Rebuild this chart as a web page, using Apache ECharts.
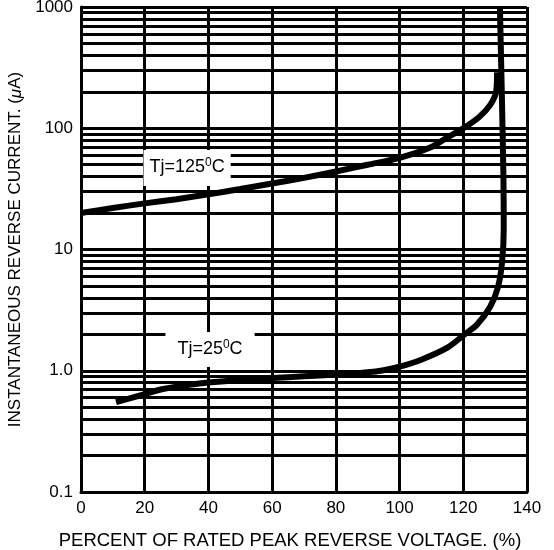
<!DOCTYPE html>
<html>
<head>
<meta charset="utf-8">
<script src="https://cdn.jsdelivr.net/npm/echarts@6/dist/echarts.min.js"></script>
<style>
html,body{margin:0;padding:0;background:#fff;}
#c{width:554px;height:550px;}
</style>
</head>
<body>
<div id="c"></div>
<script>
// X axis ticks
const xTicks = [0, 20, 40, 60, 80, 100, 120, 140];
// Y axis decades and minor grid values
const yDecades = [0.1, 1, 10, 100, 1000];
const yDecadeLabels = ['0.1', '1.0', '10', '100', '1000'];
const yMinorGrid = [0.2,0.3,0.4,0.5,0.6,0.7,0.8,0.9, 2,3,4,5,6,7,8,9, 20,30,40,50,60,70,80,90, 200,300,400,500,600,700,800,900];

// Tj = 125 C curve
const t125X = [0, 10, 20, 30, 40, 50, 60, 70, 80, 90, 100, 110, 115, 120, 125, 128.4, 130.3, 130.6];
const t125Y = [20, 22, 24, 26, 28.5, 31.5, 35, 39, 44, 50, 57, 70, 84, 100, 124, 155, 200, 290];

// Tj = 25 C curve
const t25X = [11, 20, 25, 30, 40, 50, 60, 70, 80, 90, 95, 100, 107, 115, 120.5, 124.3, 128.4, 130.9, 132.2, 132.7, 132.6, 132.1, 131.5];
const t25Y = [0.55, 0.64, 0.70, 0.74, 0.80, 0.84, 0.87, 0.90, 0.93, 0.97, 1.01, 1.08, 1.24, 1.55, 2.0, 2.4, 3.35, 4.9, 8, 15, 40, 190, 1000];

// Curve labels (anchor in data coords)
const label125 = {x: 33.3, y: 47, text: 'Tj=125{s|0}C'};
const label25 = {x: 40.5, y: 1.5, text: 'Tj=25{s|0}C'};

const FONT = '"Liberation Sans", Arial, sans-serif';
const zip = (a, b) => a.map((v, i) => [v, b[i]]);

const chart = echarts.init(document.getElementById('c'), null, {renderer: 'canvas'});
const richSup = {
  s: {fontSize: 12, fontFamily: FONT, color: '#000', verticalAlign: 'top', padding: [0, 0, 9, 0]}
};
chart.setOption({
  animation: false,
  backgroundColor: '#fff',
  grid: {left: 81, right: 27, top: 7, bottom: 58, containLabel: false, outerBoundsMode: 'none'},
  xAxis: {
    type: 'value', min: 0, max: 140, interval: 20,
    axisLine: {show: true, lineStyle: {color: '#000', width: 3}},
    axisTick: {show: false},
    splitLine: {show: true, lineStyle: {color: '#000', width: 3}},
    axisLabel: {color: '#000', fontSize: 17, fontFamily: FONT, margin: 8},
    name: 'PERCENT OF RATED PEAK REVERSE VOLTAGE. (%)',
    nameLocation: 'middle', nameGap: 39,
    nameTextStyle: {color: '#000', fontSize: 18.5, fontFamily: FONT, padding: [0, 28, 0, 0]}
  },
  yAxis: {
    type: 'log', logBase: 10, min: 0.1, max: 1000,
    axisLine: {show: true, lineStyle: {color: '#000', width: 3}},
    axisTick: {show: false},
    splitLine: {show: true, lineStyle: {color: '#000', width: 3}},
    axisLabel: {
      color: '#000', fontSize: 17, fontFamily: FONT, margin: 8,
      formatter: v => {
        for (let i = 0; i < yDecades.length; i++) {
          if (Math.abs(v - yDecades[i]) < yDecades[i] * 1e-6) return yDecadeLabels[i];
        }
        return '';
      }
    },
    name: 'INSTANTANEOUS REVERSE CURRENT. ({i|μ}A)',
    nameLocation: 'middle', nameGap: 49,
    nameTextStyle: {
      color: '#000', fontSize: 17, fontFamily: FONT,
      rich: {i: {fontStyle: 'italic', fontSize: 17, fontFamily: FONT, color: '#000'}}
    }
  },
  series: [
    {
      type: 'line', data: [], z: 1, silent: true,
      markLine: {
        silent: true, symbol: ['none', 'none'], animation: false,
        label: {show: false},
        lineStyle: {color: '#000', width: 3, type: 'solid'},
        emphasis: {disabled: true},
        data: yMinorGrid.map(v => ({yAxis: v}))
      }
    },
    {
      type: 'line', data: zip(t125X, t125Y), smooth: 0.3, symbol: 'none', z: 3,
      lineStyle: {color: '#000', width: 6}
    },
    {
      type: 'line', data: zip(t25X, t25Y), smooth: 0.3, symbol: 'none', z: 3,
      lineStyle: {color: '#000', width: 6}
    },
    {
      type: 'scatter', z: 5, symbolSize: 0, silent: true,
      itemStyle: {opacity: 1},
      data: [[label125.x, label125.y]],
      label: {
        show: true, position: 'inside', formatter: label125.text, opacity: 1,
        color: '#000', fontSize: 18, fontFamily: FONT,
        backgroundColor: '#fff', padding: [7, 6, 8, 6], rich: richSup
      }
    },
    {
      type: 'scatter', z: 5, symbolSize: 0, silent: true,
      itemStyle: {opacity: 1},
      data: [[label25.x, label25.y]],
      label: {
        show: true, position: 'inside', formatter: label25.text, opacity: 1,
        color: '#000', fontSize: 18, fontFamily: FONT,
        backgroundColor: '#fff', padding: [7, 12, 7, 12], rich: richSup
      }
    }
  ]
});
</script>
</body>
</html>
